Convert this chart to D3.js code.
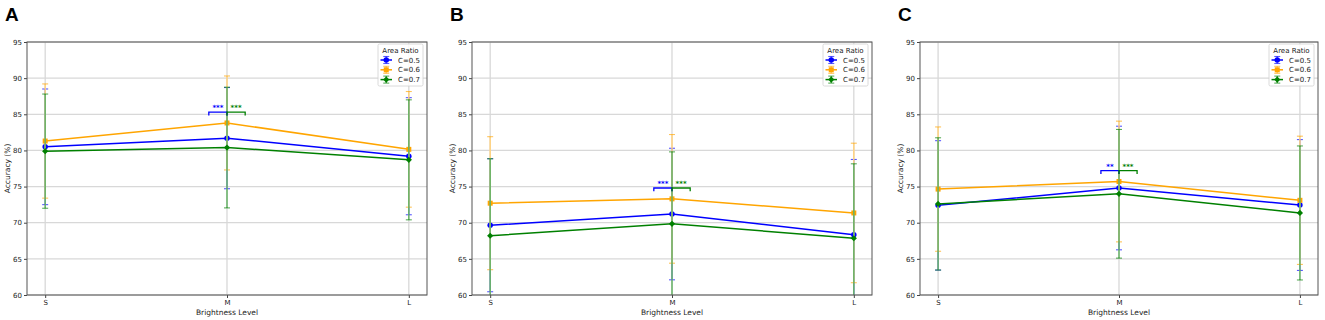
<!DOCTYPE html>
<html><head><meta charset="utf-8">
<script src="https://cdn.jsdelivr.net/npm/d3@7"></script>
<style>html,body{margin:0;padding:0;background:#fff;}svg{display:block;}</style>
</head><body>
<svg id="chart" width="1325" height="320"></svg>
<script>
const categories = ["S", "M", "L"];
const seriesNames = ["C=0.5", "C=0.6", "C=0.7"];
const seriesColors = ["#0000ff", "#ffa500", "#008000"];
const errColors = ["#7f7fff", "#ffd27f", "#66b266"];
const yTicks = [60, 65, 70, 75, 80, 85, 90, 95];
const panelLabels = ["A", "B", "C"];

// means per panel, per series (S, M, L)
const meansA_c05 = [80.5, 81.7, 79.2];
const meansA_c06 = [81.3, 83.8, 80.15];
const meansA_c07 = [79.9, 80.4, 78.7];
const errA_c05 = [8.0, 7.0, 8.1];
const errA_c06 = [7.9, 6.5, 8.0];
const errA_c07 = [7.9, 8.35, 8.3];

const meansB_c05 = [69.65, 71.2, 68.35];
const meansB_c06 = [72.7, 73.3, 71.35];
const meansB_c07 = [68.2, 69.85, 67.85];
const errB_c05 = [9.2, 9.1, 10.4];
const errB_c06 = [9.2, 8.9, 9.65];
const errB_c07 = [10.65, 9.95, 10.3];

const meansC_c05 = [72.4, 74.8, 72.45];
const meansC_c06 = [74.65, 75.7, 73.1];
const meansC_c07 = [72.6, 74.0, 71.35];
const errC_c05 = [8.95, 8.55, 9.05];
const errC_c06 = [8.6, 8.35, 8.87];
const errC_c07 = [9.15, 8.9, 9.27];

const sigA = ["***", "***"];
const sigB = ["***", "***"];
const sigC = ["**", "***"];

const panels = [
  {label: panelLabels[0], means: [meansA_c05, meansA_c06, meansA_c07], errs: [errA_c05, errA_c06, errA_c07], sig: sigA, left: 27, right: 427},
  {label: panelLabels[1], means: [meansB_c05, meansB_c06, meansB_c07], errs: [errB_c05, errB_c06, errB_c07], sig: sigB, left: 472, right: 872},
  {label: panelLabels[2], means: [meansC_c05, meansC_c06, meansC_c07], errs: [errC_c05, errC_c06, errC_c07], sig: sigC, left: 920, right: 1318}
];
const plotTop = 42, plotBottom = 295;
const FONT = "DejaVu Sans, sans-serif";
const svg = d3.select("#chart");

function marker(g, type, x, y, color, s) {
  if (type === 0) g.append("circle").attr("cx", x).attr("cy", y).attr("r", s * 0.55).attr("fill", color);
  else if (type === 1) g.append("rect").attr("x", x - s * 0.5).attr("y", y - s * 0.5).attr("width", s).attr("height", s).attr("fill", color);
  else g.append("path").attr("d", `M${x},${y - s * 0.62}L${x + s * 0.62},${y}L${x},${y + s * 0.62}L${x - s * 0.62},${y}Z`).attr("fill", color);
}

panels.forEach((p, pi) => {
  const x = d3.scaleLinear().domain([-0.1, 2.1]).range([p.left, p.right]);
  const y = d3.scaleLinear().domain([60, 95]).range([plotBottom, plotTop]);
  const g = svg.append("g");

  // panel label
  svg.append("text").attr("x", p.left - 22).attr("y", 21).text(p.label)
    .attr("font-family", "Liberation Sans, Arial, sans-serif").attr("font-weight", "bold").attr("font-size", 19).attr("fill", "#000");

  const clipId = "clip" + pi;
  svg.append("clipPath").attr("id", clipId).append("rect")
    .attr("x", p.left).attr("y", plotTop).attr("width", p.right - p.left).attr("height", plotBottom - plotTop);

  // grid
  const grid = g.append("g");
  yTicks.forEach(t => {
    grid.append("line").attr("x1", p.left).attr("x2", p.right).attr("y1", y(t)).attr("y2", y(t))
      .attr("stroke", "#d8d8d8").attr("stroke-width", 1.3);
  });
  categories.forEach((c, i) => {
    grid.append("line").attr("x1", x(i)).attr("x2", x(i)).attr("y1", plotTop).attr("y2", plotBottom)
      .attr("stroke", "#d8d8d8").attr("stroke-width", 1.3);
  });

  // axes
  const yAxis = d3.axisLeft(y).tickValues(yTicks).tickSize(3).tickPadding(2);
  const ya = g.append("g").attr("transform", `translate(${p.left},0)`).call(yAxis);
  const xAxis = d3.axisBottom(x).tickValues([0, 1, 2]).tickFormat(i => categories[i]).tickSize(3).tickPadding(2);
  const xa = g.append("g").attr("transform", `translate(0,${plotBottom})`).call(xAxis);
  [ya, xa].forEach(a => {
    a.select(".domain").remove();
    a.selectAll("line").attr("stroke", "#444");
    a.selectAll("text").attr("font-family", FONT).attr("font-size", 7).attr("fill", "#222");
  });

  // data
  const dg = g.append("g").attr("clip-path", `url(#${clipId})`);
  p.means.forEach((m, si) => {
    const col = seriesColors[si];
    const ecol = errColors[si];
    const e = p.errs[si];
    m.forEach((v, i) => {
      const cx = x(i);
      dg.append("line").attr("x1", cx).attr("x2", cx).attr("y1", y(v - e[i])).attr("y2", y(v + e[i]))
        .attr("stroke", ecol).attr("stroke-width", 1.5);
      [v - e[i], v + e[i]].forEach(cv => {
        dg.append("line").attr("x1", cx - 3).attr("x2", cx + 3).attr("y1", y(cv)).attr("y2", y(cv))
          .attr("stroke", col).attr("stroke-opacity", 0.65).attr("stroke-width", 1.1);
      });
    });
    dg.append("path").datum(m)
      .attr("d", d3.line().x((d, i) => x(i)).y(d => y(d)))
      .attr("fill", "none").attr("stroke", col).attr("stroke-width", 1.5);
    m.forEach((v, i) => marker(dg, si, x(i), y(v), col, 5));
  });

  // significance brackets at M
  const mMax = d3.max(p.means, m => m[1]);
  const lvl = mMax + 1.5;
  const by = y(lvl);
  const bracketCols = [seriesColors[0], seriesColors[2]];
  [[0.9, 1.0], [1.0, 1.1]].forEach((rng, k) => {
    const x1 = x(rng[0]), x2 = x(rng[1]);
    g.append("path").attr("d", `M${x1},${by + 3.3}L${x1},${by}L${x2},${by}L${x2},${by + 3.3}`)
      .attr("fill", "none").attr("stroke", bracketCols[k]).attr("stroke-width", 1.3);
    g.append("text").attr("x", (x1 + x2) / 2).attr("y", by - 2).attr("text-anchor", "middle")
      .attr("font-family", FONT).attr("font-size", 7).attr("font-weight", "bold").attr("fill", bracketCols[k]).text(p.sig[k]);
  });

  // frame
  g.append("rect").attr("x", p.left).attr("y", plotTop).attr("width", p.right - p.left).attr("height", plotBottom - plotTop)
    .attr("fill", "none").attr("stroke", "#555").attr("stroke-width", 1);

  // axis labels
  g.append("text").attr("x", (p.left + p.right) / 2).attr("y", 315).attr("text-anchor", "middle")
    .attr("font-family", FONT).attr("font-size", 7.5).attr("fill", "#222").text("Brightness Level");
  g.append("text").attr("transform", `translate(${p.left - 17},${(plotTop + plotBottom) / 2}) rotate(-90)`)
    .attr("text-anchor", "middle").attr("font-family", FONT).attr("font-size", 7.5).attr("fill", "#222").text("Accuracy (%)");

  // legend
  const lx = p.right - 49, ly = 44;
  const lg = g.append("g");
  lg.append("rect").attr("x", lx).attr("y", ly).attr("width", 45).attr("height", 42).attr("rx", 1.5)
    .attr("fill", "#fff").attr("fill-opacity", 0.85).attr("stroke", "#d0d0d0").attr("stroke-width", 0.8);
  lg.append("text").attr("x", lx + 22.5).attr("y", ly + 8.5).attr("text-anchor", "middle")
    .attr("font-family", FONT).attr("font-size", 7).attr("fill", "#222").text("Area Ratio");
  seriesNames.forEach((nm, si) => {
    const ey = ly + 16 + si * 9.8;
    const col = seriesColors[si];
    const ecol = errColors[si];
    const hx1 = lx + 2.5, hx2 = lx + 14, hc = (hx1 + hx2) / 2;
    lg.append("line").attr("x1", hc).attr("x2", hc).attr("y1", ey - 3.5).attr("y2", ey + 3.5)
      .attr("stroke", ecol).attr("stroke-width", 1.5);
    [ey - 3.5, ey + 3.5].forEach(cy => lg.append("line").attr("x1", hc - 3).attr("x2", hc + 3).attr("y1", cy).attr("y2", cy)
      .attr("stroke", col).attr("stroke-opacity", 0.65).attr("stroke-width", 1.1));
    lg.append("line").attr("x1", hx1).attr("x2", hx2).attr("y1", ey).attr("y2", ey).attr("stroke", col).attr("stroke-width", 1.5);
    marker(lg, si, hc, ey, col, 5);
    lg.append("text").attr("x", lx + 20).attr("y", ey + 2.5).attr("font-family", FONT).attr("font-size", 7).attr("fill", "#222").text(nm);
  });
});
</script>
</body></html>
